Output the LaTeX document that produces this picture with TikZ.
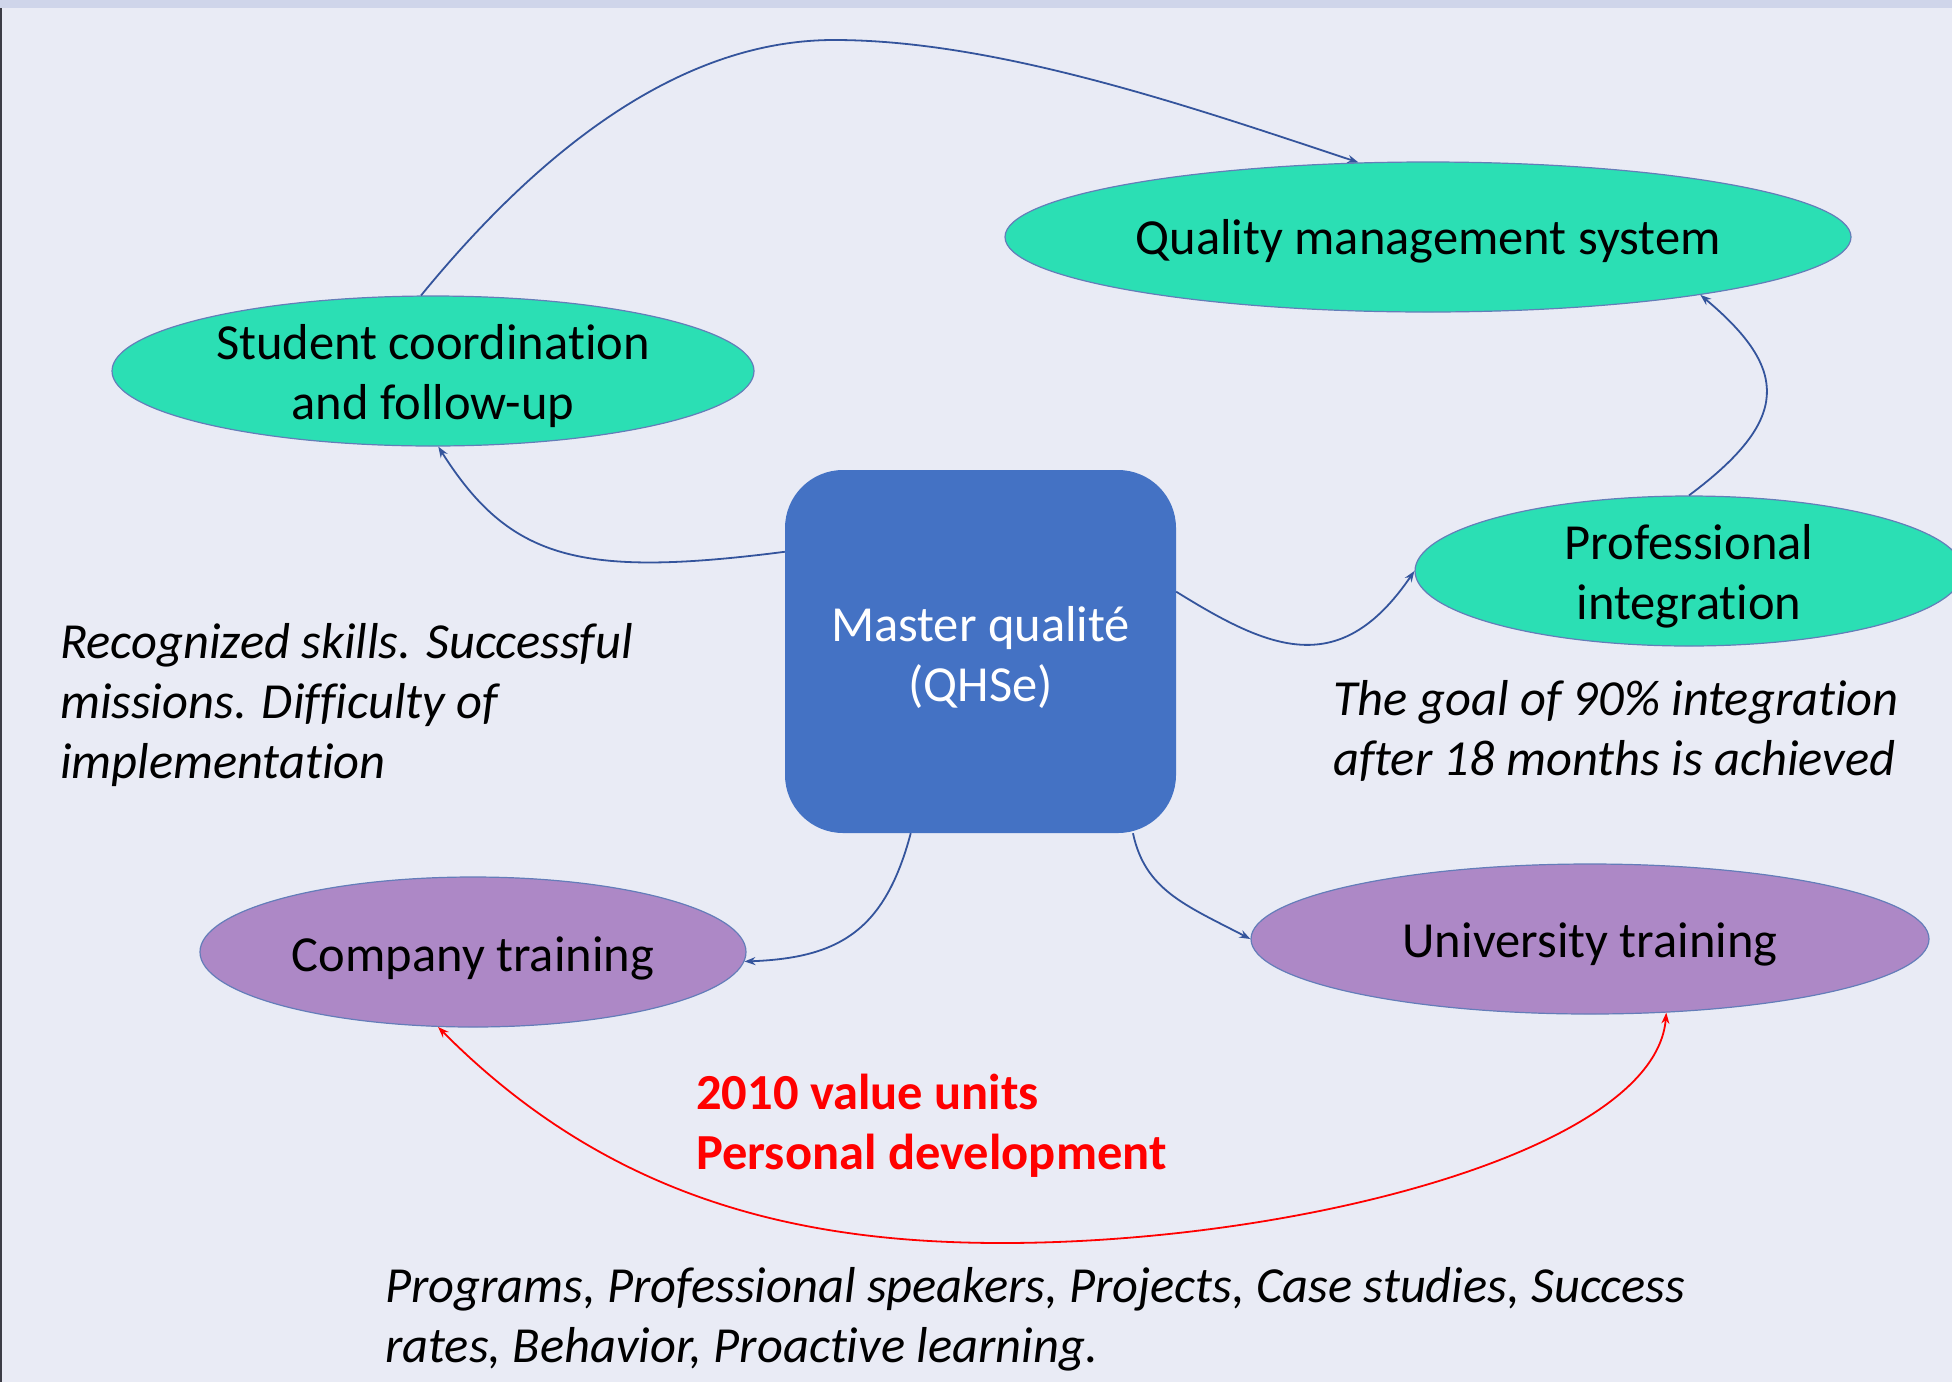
\documentclass[tikz,border=0pt]{standalone}
\usepackage{fontspec}
\setmainfont{Carlito}[Ligatures=NoCommon]
\usetikzlibrary{shapes.geometric,arrows.meta}
\definecolor{bgc}{RGB}{233,235,245}
\definecolor{bandc}{RGB}{207,213,234}
\definecolor{edgec}{RGB}{60,60,70}
\definecolor{tealc}{RGB}{43,223,180}
\definecolor{purpc}{RGB}{173,136,198}
\definecolor{boxc}{RGB}{68,114,196}
\definecolor{connc}{RGB}{52,84,156}
\definecolor{ovalline}{RGB}{100,125,185}
\definecolor{redc}{RGB}{255,0,0}
\begin{document}
\begin{tikzpicture}[x=1pt,y=-1pt,
  txt/.style={font=\fontsize{50.5}{60}\selectfont, align=center, inner sep=0pt},
  oval/.style={ellipse, draw=ovalline, line width=1.2pt, inner sep=0pt},
  tealoval/.style={oval, fill=tealc},
  purpoval/.style={oval, fill=purpc},
  conn/.style={draw=connc, line width=1.8pt, -{Stealth[length=11pt,width=8pt]}},
  redconn/.style={draw=redc, line width=1.8pt, {Stealth[length=11pt,width=8pt]}-{Stealth[length=11pt,width=8pt]}},
  note/.style={font=\fontsize{50.5}{60}\selectfont\itshape, align=left, anchor=west, inner sep=0pt},
  rednote/.style={font=\fontsize{50.5}{60}\selectfont\bfseries, text=redc, align=left, anchor=west, inner sep=0pt}
]
\useasboundingbox (0,0) rectangle (1952,1382);
\fill[bgc] (0,0) rectangle (1952,1382);
\fill[bandc] (0,0) rectangle (1952,8);
\draw[edgec, line width=2pt] (1,8) -- (1,1382);

% ellipses
\node[tealoval, minimum width=846, minimum height=150] (qms) at (1428,237) {};
\node[txt] (qmsT) at (1428,241) {Quality management system};
\node[tealoval, minimum width=642, minimum height=150] (student) at (433,371) {};
\node[txt] (studentT) at (433,376) {Student coordination\\and follow-up};
\node[tealoval, minimum width=548, minimum height=150] (prof) at (1689,571) {};
\node[txt] (profT) at (1689,576) {Professional\\integration};
\node[purpoval, minimum width=546, minimum height=150] (company) at (473,952) {};
\node[txt] (companyT) at (473,958) {Company training};
\node[purpoval, minimum width=678, minimum height=150] (univ) at (1590,939) {};
\node[txt] (univT) at (1590,944) {University training};

% central box
\node[rectangle, rounded corners=58, fill=boxc, minimum width=391, minimum height=363, inner sep=0pt] (master) at (980.5,651.5) {};
\node[txt, text=white] (masterT) at (980.5,657) {Master qualité\\(QHSe)};

% connectors
\coordinate (peak) at (834,40);
\draw[conn] (student.99) .. controls (540,150) and (680,40) .. (peak) .. controls (1000,40) and (1200,110) .. (qms.133);
\draw[conn] (master.153) .. controls (580,578) and (510,560) .. (student.274);
\draw[conn] (master.17.6) .. controls (1270,650) and (1340,680) .. (prof.180);
\draw[conn] (prof.north) .. controls (1790,420) and (1790,370) .. (qms.-12);
\draw[conn] (master.249.4) .. controls (885,930) and (840,958) .. (company.-2);
\draw[conn] (master.-50) .. controls (1145,890) and (1185,905) .. (univ.180);
\coordinate (redlow) at (1002,1243);
\draw[redconn] (company.245) .. controls (610,1200) and (800,1243) .. (redlow) .. controls (1300,1243) and (1655,1150) .. (univ.-44.7);

% notes
\node[note] (leftnote) at (60,705) {Recognized skills. Successful\\missions. Difficulty of\\implementation};
\node[note] (goalnote) at (1333,731) {The goal of 90\% integration\\after 18 months is achieved};
\node[rednote] (rednoteN) at (696,1126) {2010 value units\\Personal development};
\node[note] (bottomnote) at (385,1319) {Programs, Professional speakers, Projects, Case studies, Success\\rates, Behavior, Proactive learning.};
\end{tikzpicture}
\end{document}
